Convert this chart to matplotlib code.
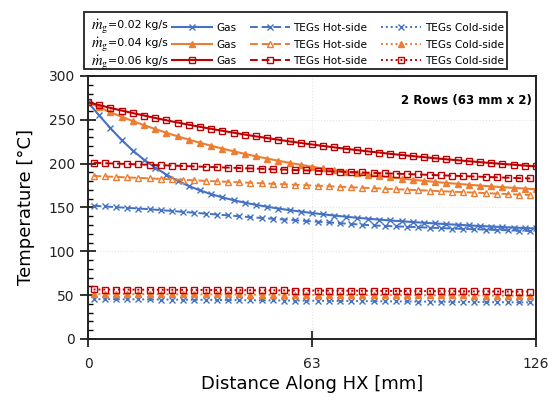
import numpy as np
import matplotlib
matplotlib.use("Agg")
import matplotlib.pyplot as plt
from matplotlib.patches import Rectangle
from matplotlib.ticker import MultipleLocator

plt.rcParams['font.family'] = ['DejaVu Sans']
plt.rcParams['mathtext.fontset'] = 'stix'

# positions along the heat exchanger [mm]
x_gas = np.linspace(0, 126, 41)
x_teg = np.linspace(1.575, 124.425, 40)

flow_labels = ['0.02', '0.04', '0.06']

gas_002 = [270, 255, 240.5, 227, 215, 204.5, 195.5, 187.5, 180.5, 174.5, 169.5,
           165.2, 161.5, 158.3, 155.5, 153, 150.8, 148.8, 147, 145.3, 143.7,
           142.2, 140.8, 139.5, 138.3, 137.2, 136.2, 135.2, 134.3, 133.4, 132.6,
           131.8, 131.0, 130.3, 129.6, 128.9, 128.3, 127.7, 127.1, 126.6, 126.1]
gas_004 = [270, 264.2, 258.7, 253.5, 248.6, 243.9, 239.5, 235.2, 231.2, 227.4, 223.8,
           220.4, 217.2, 214.1, 211.2, 208.4, 205.8, 203.3, 200.9, 198.7, 196.5,
           194.5, 192.6, 190.8, 189.0, 187.4, 185.8, 184.4, 183.0, 181.6, 180.4,
           179.2, 178.0, 177.0, 175.9, 175.0, 174.1, 173.2, 172.4, 171.6, 170.8]
gas_006 = [270, 266.8, 263.6, 260.6, 257.7, 254.9, 252.1, 249.5, 246.9, 244.4, 242.0,
           239.7, 237.5, 235.3, 233.2, 231.1, 229.2, 227.3, 225.4, 223.6, 221.9,
           220.2, 218.6, 217.0, 215.5, 214.0, 212.6, 211.2, 209.9, 208.6, 207.4,
           206.2, 205.0, 203.9, 202.8, 201.7, 200.7, 199.7, 198.8, 197.8, 196.9]

hot_002 = [152.0, 151.2, 150.4, 149.6, 148.8, 148.0, 147.0, 146.0, 145.0, 144.0,
           143.0, 142.0, 141.0, 140.0, 139.0, 138.0, 137.2, 136.3, 135.5, 134.6,
           133.8, 132.9, 132.1, 131.2, 130.4, 129.5, 129.0, 128.5, 128.0, 127.5,
           127.0, 126.5, 126.0, 125.6, 125.2, 124.8, 124.4, 124.0, 123.6, 123.2]
hot_004 = [186.0, 185.4, 184.9, 184.3, 183.8, 183.2, 182.6, 182.1, 181.5, 181.0,
           180.4, 179.8, 179.3, 178.7, 178.2, 177.6, 177.0, 176.5, 175.9, 175.4,
           174.8, 174.2, 173.7, 173.1, 172.6, 172.0, 171.4, 170.9, 170.3, 169.8,
           169.2, 168.6, 168.1, 167.5, 167.0, 166.4, 165.8, 165.3, 164.7, 164.2]
hot_006 = [201.0, 200.5, 200.1, 199.6, 199.2, 198.7, 198.2, 197.8, 197.3, 196.9,
           196.4, 195.9, 195.5, 195.0, 194.6, 194.1, 193.6, 193.2, 192.7, 192.3,
           191.8, 191.3, 190.9, 190.4, 190.0, 189.5, 189.0, 188.6, 188.1, 187.7,
           187.2, 186.7, 186.3, 185.8, 185.4, 184.9, 184.4, 184.0, 183.5, 183.1]

cold_002 = [45.6, 45.5, 45.4, 45.3, 45.2, 45.1, 45.0, 44.9, 44.8, 44.7,
            44.6, 44.5, 44.4, 44.3, 44.2, 44.1, 44.0, 43.9, 43.8, 43.7,
            43.6, 43.5, 43.4, 43.3, 43.2, 43.1, 43.0, 42.9, 42.8, 42.7,
            42.6, 42.5, 42.4, 42.3, 42.2, 42.1, 42.0, 41.9, 41.8, 41.7]
cold_004 = [51.5, 51.4, 51.4, 51.3, 51.3, 51.2, 51.2, 51.1, 51.1, 51.0,
            51.0, 50.9, 50.8, 50.8, 50.7, 50.7, 50.6, 50.6, 50.5, 50.5,
            50.4, 50.3, 50.3, 50.2, 50.2, 50.1, 50.1, 50.0, 50.0, 49.9,
            49.9, 49.8, 49.7, 49.7, 49.6, 49.6, 49.5, 49.5, 49.4, 49.4]
cold_006 = [56.5, 56.4, 56.4, 56.3, 56.2, 56.2, 56.1, 56.1, 56.0, 55.9,
            55.9, 55.8, 55.7, 55.7, 55.6, 55.5, 55.5, 55.4, 55.3, 55.3,
            55.2, 55.2, 55.1, 55.0, 55.0, 54.9, 54.8, 54.8, 54.7, 54.6,
            54.6, 54.5, 54.5, 54.4, 54.3, 54.3, 54.2, 54.1, 54.1, 54.0]

colors = ['#4472C4', '#ED7D31', '#C00000']
markers = ['x', '^', 's']
gas = [gas_002, gas_004, gas_006]
hot = [hot_002, hot_004, hot_006]
cold = [cold_002, cold_004, cold_006]

fig = plt.figure(figsize=(5.48, 4.04), dpi=100)
ax = fig.add_axes([0.1606, 0.1609, 0.8174, 0.651])

gas_lines, hot_lines, cold_lines = [], [], []
for k in range(3):
    c, m = colors[k], markers[k]
    filled = c if m == '^' else 'none'
    l1, = ax.plot(x_gas, gas[k], color=c, ls='-', lw=1.5, marker=m, ms=4,
                  mfc=filled, mew=1.0, label='Gas')
    l2, = ax.plot(x_teg, hot[k], color=c, ls=(0, (4, 2)), lw=1.4, marker=m, ms=4,
                  mfc='none', mew=1.0, label='TEGs Hot-side')
    l3, = ax.plot(x_teg, cold[k], color=c, ls=(0, (1, 1.5)), lw=1.4, marker=m, ms=4,
                  mfc=filled, mew=1.0, label='TEGs Cold-side')
    gas_lines.append(l1)
    hot_lines.append(l2)
    cold_lines.append(l3)

ax.set_xlim(0, 126)
ax.set_ylim(0, 300)
ax.set_xticks([0, 63, 126])
ax.yaxis.set_major_locator(MultipleLocator(50))
ax.yaxis.set_minor_locator(MultipleLocator(10))
ax.tick_params(axis='both', which='major', direction='inout', length=11, width=1.3,
               labelsize=10, colors='#222222')
ax.tick_params(axis='y', which='minor', direction='in', length=3.6, width=1.0)
ax.tick_params(axis='x', which='major', pad=7.5)
ax.tick_params(axis='y', which='major', pad=4)
ax.grid(which='major', color='#e6e6e6', ls=':', lw=0.8)
for s in ax.spines.values():
    s.set_linewidth(1.4)
    s.set_color('#222222')

ax.set_xlabel('Distance Along HX [mm]', fontsize=13, labelpad=3)
ax.set_ylabel('Temperature [\u00b0C]', fontsize=13, labelpad=10)

ax.text(0.99, 0.905, '2 Rows (63 mm x 2)', transform=ax.transAxes, ha='right',
        va='center', fontsize=8.5, fontweight='bold')

# legend box across the top, flow-rate labels on the left of each row
fig.patches.append(Rectangle((0.1533, 0.8292), 0.772, 0.1411, transform=fig.transFigure,
                             fill=False, edgecolor='#222222', lw=1.3))
row_y = [0.938, 0.894, 0.849]
for k in range(3):
    fig.text(0.166, row_y[k] - 0.004, r'$\dot{m}_{\mathrm{g}}$', fontsize=10.5,
             va='center', ha='left')
    fig.text(0.197, row_y[k], '=' + flow_labels[k] + ' kg/s', fontsize=7.9,
             va='center', ha='left')

handles = gas_lines + hot_lines + cold_lines
fig.legend(handles=handles, labels=[h.get_label() for h in handles], ncol=3,
           loc='upper left', bbox_to_anchor=(0.314, 0.943), bbox_transform=fig.transFigure,
           frameon=False, fontsize=7.6, handlelength=3.8, handletextpad=0.35,
           columnspacing=1.3, labelspacing=0.62, borderpad=0, borderaxespad=0)

fig.savefig('out.png', dpi=100)
